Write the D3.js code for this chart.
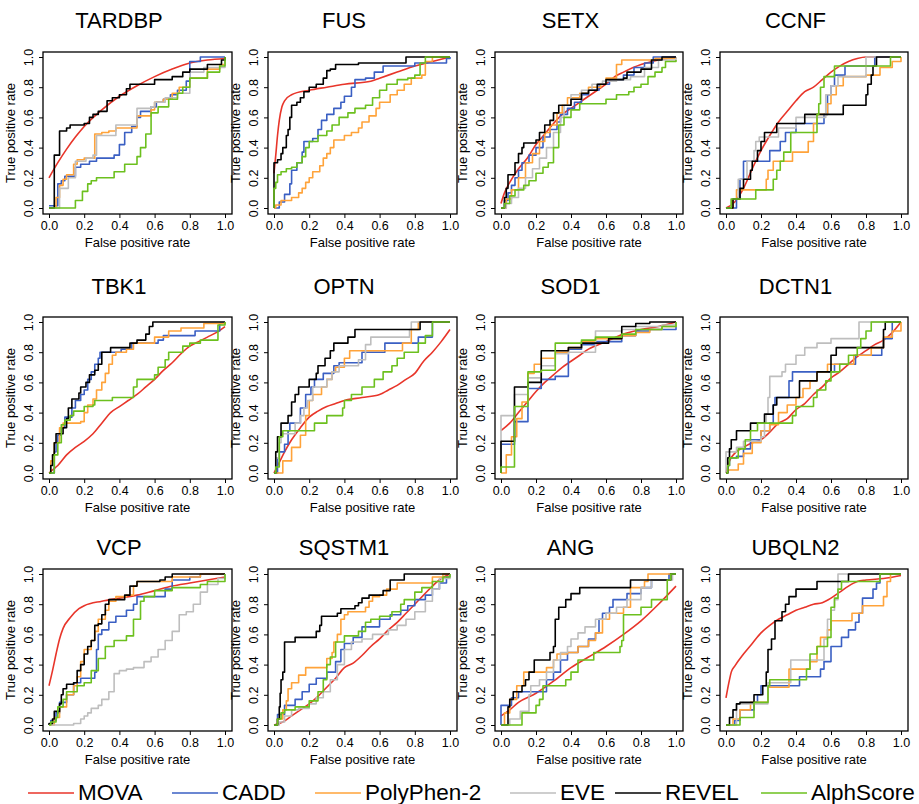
<!DOCTYPE html>
<html>
<head>
<meta charset="utf-8">
<script src="https://cdn.jsdelivr.net/npm/d3@7"></script>
<style>
body { margin: 0; background: #fff; }
text { font-family: "Liberation Sans", Arial, sans-serif; fill: #000; }
</style>
</head>
<body>
<div id="wrapper"></div>
<script>
var methods = ["MOVA", "CADD", "PolyPhen-2", "EVE", "REVEL", "AlphScore"];
var colors = ["#E8352A", "#3A5FC3", "#FFA33A", "#BEBEBE", "#000000", "#6CC01E"];
var genes = ["TARDBP", "FUS", "SETX", "CCNF", "TBK1", "OPTN", "SOD1", "DCTN1", "VCP", "SQSTM1", "ANG", "UBQLN2"];
var ticks = [0, 0.2, 0.4, 0.6, 0.8, 1.0];

// each gene: [MOVA, CADD, PolyPhen-2, EVE, REVEL, AlphScore] as [fpr, tpr]
var rocTARDBP = [
  [[0,0.2],[0.05,0.3],[0.1,0.39],[0.15,0.47],[0.2,0.54],[0.3,0.65],[0.4,0.74],[0.5,0.81],[0.6,0.87],[0.7,0.92],[0.8,0.96],[0.9,0.98],[1,0.99]],
  [[0,0.015],[0.05,0.16],[0.07,0.18],[0.09,0.21],[0.15,0.27],[0.18,0.29],[0.23,0.31],[0.27,0.33],[0.37,0.35],[0.4,0.42],[0.43,0.5],[0.47,0.54],[0.5,0.6],[0.52,0.64],[0.58,0.67],[0.61,0.7],[0.65,0.72],[0.69,0.75],[0.73,0.78],[0.78,0.84],[0.8,0.97],[0.86,1],[1,1]],
  [[0,0],[0.04,0.07],[0.06,0.15],[0.08,0.19],[0.1,0.22],[0.14,0.29],[0.16,0.32],[0.2,0.33],[0.26,0.49],[0.3,0.5],[0.34,0.51],[0.38,0.53],[0.5,0.61],[0.58,0.65],[0.6,0.7],[0.65,0.72],[0.7,0.76],[0.74,0.8],[0.8,0.86],[0.9,0.92],[0.97,0.95],[1,1]],
  [[0,0],[0.06,0.13],[0.11,0.2],[0.15,0.31],[0.21,0.33],[0.25,0.35],[0.27,0.48],[0.38,0.55],[0.5,0.66],[0.58,0.67],[0.6,0.7],[0.66,0.73],[0.73,0.76],[0.8,0.9],[0.88,0.93],[0.99,0.93],[1,1]],
  [[0,0],[0.03,0.35],[0.06,0.51],[0.1,0.53],[0.12,0.55],[0.2,0.56],[0.23,0.6],[0.25,0.62],[0.28,0.64],[0.33,0.71],[0.36,0.73],[0.4,0.75],[0.44,0.79],[0.46,0.82],[0.6,0.85],[0.7,0.87],[0.76,0.9],[0.8,0.92],[0.9,0.95],[0.98,0.98],[1,1]],
  [[0,0],[0.15,0.05],[0.19,0.11],[0.22,0.16],[0.24,0.18],[0.27,0.2],[0.37,0.24],[0.43,0.29],[0.5,0.34],[0.52,0.4],[0.55,0.49],[0.58,0.63],[0.62,0.67],[0.68,0.72],[0.73,0.76],[0.76,0.8],[0.8,0.86],[0.9,0.9],[0.97,0.94],[1,1]]
];
var rocFUS = [
  [[0,0.23],[0.01,0.35],[0.02,0.48],[0.03,0.58],[0.045,0.67],[0.06,0.71],[0.1,0.75],[0.2,0.78],[0.3,0.8],[0.4,0.82],[0.55,0.84],[0.6,0.86],[0.7,0.9],[0.8,0.94],[0.9,0.97],[1,1]],
  [[0,0],[0.03,0.04],[0.06,0.09],[0.09,0.16],[0.1,0.25],[0.13,0.3],[0.16,0.37],[0.17,0.44],[0.22,0.46],[0.25,0.52],[0.27,0.58],[0.3,0.62],[0.34,0.66],[0.38,0.7],[0.4,0.74],[0.44,0.8],[0.46,0.85],[0.52,0.86],[0.57,0.9],[0.62,0.94],[0.8,0.96],[0.98,0.99],[1,1]],
  [[0,0],[0.01,0.02],[0.04,0.05],[0.1,0.07],[0.14,0.1],[0.16,0.13],[0.18,0.17],[0.2,0.2],[0.22,0.24],[0.26,0.28],[0.28,0.33],[0.3,0.36],[0.32,0.4],[0.34,0.45],[0.4,0.48],[0.44,0.5],[0.48,0.53],[0.5,0.57],[0.54,0.61],[0.58,0.66],[0.6,0.7],[0.66,0.75],[0.7,0.78],[0.74,0.82],[0.78,0.86],[0.84,0.88],[0.86,0.97],[0.9,1],[1,1]],
  null,
  [[0,0],[0,0.3],[0.02,0.32],[0.04,0.36],[0.05,0.4],[0.07,0.48],[0.08,0.52],[0.09,0.6],[0.1,0.68],[0.13,0.7],[0.15,0.73],[0.17,0.77],[0.2,0.8],[0.24,0.82],[0.28,0.86],[0.3,0.91],[0.32,0.92],[0.35,0.95],[0.48,0.96],[0.75,1],[1,1]],
  [[0,0],[0,0.13],[0.01,0.17],[0.02,0.22],[0.04,0.24],[0.07,0.26],[0.1,0.27],[0.13,0.3],[0.16,0.34],[0.18,0.4],[0.2,0.44],[0.25,0.48],[0.3,0.51],[0.33,0.55],[0.37,0.6],[0.42,0.63],[0.46,0.66],[0.52,0.68],[0.56,0.73],[0.6,0.78],[0.64,0.82],[0.7,0.85],[0.76,0.86],[0.8,0.88],[0.83,0.96],[0.86,1],[1,1]]
];
var rocSETX = [
  [[0,0.03],[0.02,0.1],[0.05,0.17],[0.1,0.26],[0.15,0.33],[0.2,0.42],[0.25,0.49],[0.3,0.56],[0.35,0.62],[0.4,0.66],[0.45,0.7],[0.5,0.74],[0.55,0.78],[0.6,0.82],[0.65,0.87],[0.7,0.9],[0.8,0.95],[0.9,0.98],[1,1]],
  [[0,0],[0.02,0.05],[0.04,0.1],[0.06,0.15],[0.08,0.2],[0.1,0.25],[0.12,0.3],[0.16,0.35],[0.2,0.4],[0.24,0.47],[0.28,0.52],[0.32,0.57],[0.34,0.62],[0.38,0.66],[0.42,0.7],[0.46,0.75],[0.5,0.78],[0.56,0.82],[0.62,0.85],[0.7,0.88],[0.76,0.93],[0.82,0.96],[0.87,1],[1,1]],
  [[0,0],[0.03,0.06],[0.06,0.12],[0.1,0.2],[0.14,0.3],[0.18,0.36],[0.22,0.44],[0.25,0.5],[0.28,0.55],[0.32,0.63],[0.35,0.68],[0.38,0.73],[0.45,0.76],[0.5,0.8],[0.57,0.82],[0.6,0.86],[0.66,0.95],[0.69,0.98],[0.8,0.98],[0.88,0.99],[1,1]],
  [[0,0],[0.03,0.03],[0.06,0.07],[0.1,0.13],[0.14,0.2],[0.18,0.26],[0.22,0.33],[0.26,0.4],[0.3,0.5],[0.34,0.6],[0.36,0.68],[0.4,0.75],[0.46,0.78],[0.52,0.82],[0.58,0.84],[0.66,0.85],[0.74,0.87],[0.82,0.93],[0.9,0.98],[1,1]],
  [[0,0],[0.02,0.07],[0.03,0.13],[0.04,0.22],[0.08,0.3],[0.1,0.36],[0.12,0.4],[0.13,0.43],[0.2,0.45],[0.22,0.5],[0.25,0.55],[0.28,0.58],[0.3,0.63],[0.33,0.68],[0.4,0.72],[0.46,0.76],[0.5,0.78],[0.55,0.82],[0.6,0.85],[0.7,0.86],[0.72,0.9],[0.8,0.92],[0.86,0.98],[0.92,1],[1,1]],
  [[0,0],[0.02,0.03],[0.05,0.08],[0.08,0.12],[0.13,0.15],[0.16,0.18],[0.2,0.23],[0.24,0.27],[0.27,0.3],[0.3,0.4],[0.33,0.55],[0.36,0.6],[0.4,0.65],[0.45,0.69],[0.6,0.72],[0.66,0.75],[0.73,0.77],[0.76,0.8],[0.8,0.82],[0.84,0.87],[0.88,0.9],[0.92,0.93],[0.94,0.97],[1,0.98]]
];
var rocCCNF = [
  [[0,0],[0.05,0.04],[0.1,0.13],[0.15,0.26],[0.2,0.38],[0.25,0.48],[0.3,0.57],[0.35,0.64],[0.4,0.71],[0.45,0.77],[0.5,0.8],[0.55,0.85],[0.6,0.9],[0.65,0.94],[0.7,0.97],[0.75,0.99],[0.8,1],[1,1]],
  [[0,0],[0.06,0.06],[0.08,0.19],[0.1,0.31],[0.25,0.38],[0.31,0.44],[0.34,0.5],[0.4,0.56],[0.56,0.62],[0.58,0.75],[0.6,0.81],[0.62,0.88],[0.68,0.94],[0.85,1],[1,1]],
  [[0,0],[0.04,0.06],[0.06,0.12],[0.23,0.19],[0.24,0.25],[0.27,0.31],[0.38,0.37],[0.47,0.44],[0.5,0.56],[0.52,0.62],[0.58,0.69],[0.6,0.75],[0.63,0.81],[0.67,0.87],[0.8,0.88],[0.88,0.93],[0.95,0.97],[1,1]],
  [[0,0],[0.03,0.06],[0.07,0.19],[0.12,0.31],[0.16,0.38],[0.17,0.44],[0.19,0.47],[0.3,0.53],[0.4,0.6],[0.57,0.75],[0.6,0.81],[0.64,0.87],[0.8,1],[1,1]],
  [[0,0],[0.04,0.06],[0.08,0.13],[0.1,0.19],[0.14,0.25],[0.15,0.31],[0.18,0.38],[0.2,0.44],[0.22,0.5],[0.29,0.56],[0.45,0.62],[0.67,0.68],[0.8,0.75],[0.81,0.82],[0.83,0.88],[0.84,0.94],[0.86,1],[1,1]],
  [[0,0],[0.03,0.06],[0.17,0.12],[0.27,0.19],[0.29,0.25],[0.31,0.31],[0.33,0.37],[0.37,0.5],[0.52,0.62],[0.53,0.69],[0.54,0.8],[0.56,0.87],[0.62,0.94],[0.94,1],[1,1]]
];
var rocTBK1 = [
  [[0,0],[0.02,0.02],[0.05,0.05],[0.1,0.12],[0.15,0.17],[0.2,0.21],[0.25,0.26],[0.3,0.33],[0.35,0.4],[0.4,0.44],[0.45,0.48],[0.5,0.52],[0.55,0.57],[0.6,0.62],[0.65,0.68],[0.7,0.73],[0.75,0.79],[0.8,0.84],[0.85,0.87],[0.9,0.9],[0.95,0.93],[1,0.97]],
  [[0,0],[0.03,0.14],[0.04,0.2],[0.05,0.25],[0.07,0.3],[0.09,0.37],[0.13,0.43],[0.15,0.48],[0.18,0.52],[0.2,0.55],[0.22,0.62],[0.24,0.67],[0.26,0.72],[0.28,0.76],[0.29,0.8],[0.41,0.82],[0.47,0.86],[0.62,0.88],[0.65,0.91],[0.83,0.94],[0.97,0.99],[1,1]],
  [[0,0],[0.01,0.08],[0.03,0.2],[0.06,0.3],[0.08,0.33],[0.18,0.34],[0.2,0.4],[0.22,0.45],[0.25,0.49],[0.27,0.55],[0.3,0.6],[0.32,0.66],[0.34,0.72],[0.36,0.78],[0.38,0.8],[0.44,0.82],[0.48,0.86],[0.6,0.9],[0.68,0.94],[0.75,0.96],[0.88,0.99],[1,1]],
  null,
  [[0,0],[0.01,0.05],[0.02,0.12],[0.03,0.2],[0.04,0.26],[0.08,0.3],[0.1,0.36],[0.11,0.43],[0.13,0.49],[0.17,0.53],[0.18,0.57],[0.21,0.6],[0.23,0.65],[0.26,0.68],[0.28,0.72],[0.3,0.8],[0.35,0.83],[0.46,0.86],[0.5,0.88],[0.55,0.92],[0.57,0.97],[0.59,1],[1,1]],
  [[0,0],[0.03,0.12],[0.05,0.2],[0.07,0.32],[0.09,0.35],[0.12,0.38],[0.14,0.41],[0.2,0.44],[0.25,0.45],[0.26,0.48],[0.36,0.5],[0.48,0.57],[0.5,0.62],[0.6,0.65],[0.62,0.7],[0.66,0.75],[0.68,0.8],[0.76,0.84],[0.8,0.86],[0.86,0.88],[0.96,0.98],[1,1]]
];
var rocOPTN = [
  [[0,0],[0.03,0.07],[0.06,0.14],[0.1,0.22],[0.15,0.3],[0.2,0.37],[0.25,0.41],[0.3,0.44],[0.35,0.46],[0.4,0.48],[0.5,0.5],[0.6,0.52],[0.65,0.55],[0.7,0.58],[0.75,0.62],[0.8,0.66],[0.85,0.74],[0.9,0.8],[0.95,0.87],[1,0.95]],
  [[0,0],[0.02,0.1],[0.03,0.14],[0.06,0.19],[0.08,0.28],[0.09,0.33],[0.15,0.43],[0.18,0.52],[0.21,0.57],[0.23,0.62],[0.28,0.66],[0.34,0.71],[0.37,0.73],[0.5,0.8],[0.63,0.86],[0.82,0.9],[0.9,1],[1,1]],
  [[0,0],[0.05,0.08],[0.1,0.17],[0.15,0.25],[0.18,0.38],[0.2,0.48],[0.22,0.52],[0.27,0.57],[0.3,0.62],[0.33,0.67],[0.35,0.7],[0.4,0.76],[0.43,0.81],[0.73,0.86],[0.78,0.95],[0.82,1],[1,1]],
  [[0,0],[0.01,0.1],[0.03,0.2],[0.04,0.26],[0.12,0.33],[0.15,0.38],[0.17,0.43],[0.19,0.48],[0.22,0.57],[0.3,0.62],[0.33,0.67],[0.37,0.71],[0.48,0.75],[0.52,0.85],[0.55,0.9],[0.77,0.95],[0.78,1],[1,1]],
  [[0,0],[0.01,0.14],[0.02,0.24],[0.04,0.33],[0.08,0.38],[0.1,0.47],[0.12,0.52],[0.14,0.57],[0.2,0.62],[0.24,0.66],[0.25,0.71],[0.29,0.76],[0.32,0.81],[0.34,0.86],[0.42,0.9],[0.46,0.95],[0.83,1],[1,1]],
  [[0,0],[0.01,0.04],[0.03,0.24],[0.05,0.28],[0.23,0.33],[0.3,0.38],[0.39,0.43],[0.4,0.48],[0.44,0.52],[0.5,0.57],[0.57,0.62],[0.62,0.67],[0.67,0.71],[0.7,0.76],[0.74,0.8],[0.82,0.86],[0.86,0.91],[0.9,1],[1,1]]
];
var rocSOD1 = [
  [[0,0.28],[0.05,0.33],[0.1,0.4],[0.15,0.47],[0.2,0.54],[0.25,0.6],[0.3,0.65],[0.35,0.7],[0.4,0.74],[0.45,0.78],[0.5,0.82],[0.6,0.87],[0.7,0.92],[0.8,0.95],[0.9,0.97],[1,1]],
  [[0,0],[0,0.19],[0.077,0.34],[0.154,0.56],[0.23,0.62],[0.31,0.64],[0.385,0.82],[0.46,0.85],[0.54,0.87],[0.69,0.91],[0.77,0.94],[0.85,0.95],[1,0.97]],
  [[0,0],[0.03,0.12],[0.06,0.24],[0.09,0.36],[0.12,0.47],[0.154,0.66],[0.19,0.72],[0.23,0.76],[0.31,0.8],[0.385,0.83],[0.46,0.87],[0.54,0.89],[0.69,0.91],[0.77,0.93],[0.85,0.95],[0.92,0.97],[1,1]],
  [[0,0],[0,0.38],[0.077,0.52],[0.154,0.63],[0.23,0.71],[0.31,0.79],[0.385,0.8],[0.54,0.94],[0.69,0.95],[0.77,0.97],[0.92,0.98],[1,1]],
  [[0,0],[0,0.21],[0.077,0.57],[0.154,0.6],[0.23,0.81],[0.385,0.83],[0.46,0.86],[0.615,0.89],[0.69,0.97],[0.77,0.99],[0.85,1],[1,1]],
  [[0,0],[0,0.04],[0.077,0.44],[0.154,0.67],[0.23,0.68],[0.31,0.86],[0.46,0.88],[0.54,0.9],[0.69,0.92],[0.77,0.95],[0.92,0.97],[1,1]]
];
var rocDCTN1 = [
  [[0,0],[0.02,0.08],[0.05,0.13],[0.1,0.17],[0.15,0.2],[0.2,0.22],[0.25,0.27],[0.3,0.33],[0.35,0.36],[0.4,0.42],[0.45,0.46],[0.5,0.52],[0.55,0.57],[0.6,0.63],[0.65,0.67],[0.7,0.72],[0.75,0.77],[0.8,0.81],[0.85,0.85],[0.9,0.88],[0.95,0.93],[1,1]],
  [[0,0],[0.01,0.05],[0.02,0.1],[0.06,0.11],[0.1,0.16],[0.14,0.22],[0.2,0.28],[0.25,0.33],[0.27,0.45],[0.28,0.5],[0.36,0.61],[0.38,0.67],[0.62,0.72],[0.74,0.78],[0.89,0.83],[0.9,0.89],[0.95,1],[1,1]],
  [[0,0],[0.01,0.02],[0.07,0.06],[0.1,0.13],[0.15,0.2],[0.2,0.28],[0.25,0.32],[0.3,0.4],[0.35,0.45],[0.4,0.5],[0.44,0.56],[0.48,0.61],[0.52,0.67],[0.58,0.72],[0.73,0.78],[0.83,0.83],[0.9,0.9],[0.95,0.94],[1,1]],
  [[0,0],[0,0.14],[0.06,0.17],[0.1,0.21],[0.2,0.24],[0.22,0.33],[0.23,0.39],[0.24,0.5],[0.25,0.64],[0.32,0.67],[0.34,0.72],[0.4,0.78],[0.45,0.83],[0.52,0.86],[0.6,0.89],[0.76,1],[1,1]],
  [[0,0],[0.01,0.1],[0.02,0.16],[0.03,0.22],[0.06,0.28],[0.14,0.33],[0.22,0.39],[0.27,0.45],[0.29,0.5],[0.42,0.61],[0.52,0.67],[0.6,0.78],[0.63,0.83],[0.9,0.95],[0.91,1],[1,1]],
  [[0,0],[0.01,0.05],[0.02,0.1],[0.07,0.16],[0.11,0.22],[0.14,0.28],[0.18,0.33],[0.38,0.38],[0.4,0.44],[0.5,0.5],[0.52,0.55],[0.57,0.61],[0.6,0.67],[0.65,0.72],[0.7,0.78],[0.75,0.83],[0.77,0.89],[0.8,0.94],[0.83,1],[1,1]]
];
var rocVCP = [
  [[0,0.26],[0.02,0.36],[0.04,0.47],[0.06,0.57],[0.08,0.64],[0.12,0.71],[0.17,0.77],[0.2,0.79],[0.3,0.82],[0.4,0.84],[0.5,0.86],[0.6,0.89],[0.7,0.92],[0.8,0.94],[0.9,0.96],[1,0.98]],
  [[0,0],[0.01,0.03],[0.04,0.08],[0.06,0.15],[0.1,0.2],[0.14,0.28],[0.18,0.31],[0.26,0.35],[0.27,0.5],[0.28,0.6],[0.3,0.63],[0.34,0.68],[0.38,0.72],[0.44,0.76],[0.48,0.8],[0.5,0.85],[0.66,0.9],[0.7,0.96],[0.8,0.98],[0.86,1],[1,1]],
  [[0,0],[0.03,0.05],[0.06,0.12],[0.1,0.2],[0.14,0.26],[0.16,0.32],[0.18,0.42],[0.2,0.5],[0.24,0.56],[0.26,0.62],[0.28,0.7],[0.32,0.76],[0.34,0.82],[0.38,0.85],[0.44,0.86],[0.48,0.92],[0.5,0.95],[0.7,0.98],[0.86,1],[1,1]],
  [[0,0],[0.14,0.01],[0.18,0.04],[0.2,0.06],[0.22,0.08],[0.24,0.11],[0.28,0.13],[0.3,0.17],[0.34,0.22],[0.37,0.34],[0.4,0.36],[0.44,0.37],[0.48,0.38],[0.54,0.42],[0.58,0.45],[0.62,0.5],[0.66,0.56],[0.7,0.62],[0.74,0.73],[0.78,0.75],[0.82,0.8],[0.86,0.88],[0.9,0.93],[0.96,0.97],[1,1]],
  [[0,0],[0,0.01],[0.02,0.04],[0.03,0.09],[0.06,0.14],[0.07,0.2],[0.08,0.24],[0.1,0.27],[0.14,0.28],[0.16,0.36],[0.18,0.4],[0.2,0.47],[0.22,0.52],[0.24,0.56],[0.26,0.66],[0.28,0.67],[0.3,0.73],[0.32,0.8],[0.34,0.83],[0.43,0.86],[0.46,0.92],[0.5,0.95],[0.63,0.96],[0.66,0.98],[0.7,1],[1,1]],
  [[0,0],[0.01,0.02],[0.04,0.05],[0.05,0.12],[0.08,0.17],[0.1,0.22],[0.16,0.26],[0.2,0.28],[0.24,0.36],[0.28,0.44],[0.32,0.52],[0.37,0.56],[0.44,0.59],[0.48,0.7],[0.52,0.82],[0.54,0.85],[0.6,0.89],[0.7,0.91],[0.86,0.93],[0.9,0.95],[1,1]]
];
var rocSQSTM1 = [
  [[0,0],[0.05,0.02],[0.1,0.06],[0.15,0.1],[0.2,0.14],[0.25,0.19],[0.3,0.25],[0.35,0.31],[0.4,0.38],[0.45,0.41],[0.5,0.46],[0.55,0.52],[0.6,0.57],[0.65,0.63],[0.7,0.68],[0.75,0.74],[0.8,0.8],[0.85,0.86],[0.9,0.92],[0.95,0.97],[1,1]],
  [[0,0],[0.02,0.07],[0.06,0.13],[0.12,0.17],[0.16,0.22],[0.2,0.27],[0.24,0.31],[0.3,0.35],[0.35,0.42],[0.38,0.5],[0.4,0.54],[0.45,0.58],[0.5,0.65],[0.6,0.7],[0.66,0.73],[0.72,0.76],[0.76,0.79],[0.8,0.83],[0.86,0.86],[0.9,0.9],[0.94,0.94],[0.98,0.98],[1,1]],
  [[0,0],[0.02,0.04],[0.05,0.1],[0.07,0.16],[0.08,0.24],[0.1,0.28],[0.14,0.33],[0.18,0.38],[0.3,0.44],[0.33,0.48],[0.34,0.55],[0.36,0.6],[0.38,0.7],[0.4,0.73],[0.42,0.75],[0.52,0.78],[0.54,0.82],[0.56,0.85],[0.6,0.86],[0.64,0.9],[0.7,0.94],[0.9,0.98],[0.96,1],[1,1]],
  [[0,0],[0.03,0.02],[0.06,0.06],[0.1,0.1],[0.14,0.11],[0.2,0.14],[0.24,0.18],[0.28,0.22],[0.32,0.3],[0.36,0.4],[0.4,0.5],[0.44,0.55],[0.5,0.57],[0.56,0.6],[0.65,0.63],[0.7,0.66],[0.75,0.7],[0.8,0.75],[0.86,0.82],[0.9,0.9],[0.94,0.97],[1,1]],
  [[0,0],[0.02,0.04],[0.03,0.12],[0.035,0.21],[0.04,0.3],[0.05,0.35],[0.06,0.55],[0.12,0.58],[0.24,0.62],[0.26,0.66],[0.27,0.72],[0.36,0.74],[0.38,0.77],[0.46,0.79],[0.48,0.81],[0.5,0.84],[0.54,0.86],[0.62,0.89],[0.66,0.96],[0.74,1],[1,1]],
  [[0,0],[0.02,0.04],[0.04,0.08],[0.06,0.1],[0.12,0.12],[0.2,0.16],[0.25,0.22],[0.28,0.3],[0.3,0.4],[0.32,0.45],[0.35,0.55],[0.4,0.59],[0.48,0.62],[0.52,0.68],[0.55,0.7],[0.6,0.72],[0.67,0.75],[0.72,0.8],[0.74,0.83],[0.8,0.88],[0.84,0.91],[0.9,0.95],[0.96,0.98],[1,1]]
];
var rocANG = [
  [[0,0.06],[0.05,0.1],[0.1,0.15],[0.2,0.21],[0.3,0.29],[0.4,0.38],[0.5,0.45],[0.6,0.52],[0.7,0.6],[0.8,0.69],[0.9,0.8],[1,0.92]],
  [[0,0],[0,0.13],[0.06,0.18],[0.1,0.22],[0.26,0.3],[0.3,0.35],[0.34,0.43],[0.38,0.48],[0.44,0.52],[0.5,0.57],[0.54,0.61],[0.56,0.7],[0.58,0.74],[0.62,0.78],[0.64,0.83],[0.72,0.87],[0.8,0.91],[0.86,0.96],[0.96,1],[1,1]],
  [[0,0],[0.02,0.08],[0.05,0.17],[0.09,0.26],[0.13,0.35],[0.26,0.38],[0.3,0.43],[0.32,0.47],[0.38,0.48],[0.44,0.52],[0.5,0.56],[0.54,0.61],[0.58,0.7],[0.62,0.74],[0.7,0.78],[0.74,0.91],[0.82,0.95],[0.84,1],[1,1]],
  [[0,0],[0.05,0.04],[0.11,0.09],[0.16,0.2],[0.17,0.26],[0.22,0.3],[0.26,0.35],[0.3,0.43],[0.34,0.48],[0.38,0.52],[0.4,0.57],[0.44,0.61],[0.48,0.65],[0.54,0.7],[0.6,0.74],[0.66,0.78],[0.72,0.83],[0.8,0.91],[0.86,0.96],[0.98,1],[1,1]],
  [[0,0],[0.04,0.12],[0.05,0.17],[0.07,0.22],[0.12,0.26],[0.14,0.3],[0.16,0.35],[0.19,0.43],[0.28,0.48],[0.3,0.52],[0.31,0.7],[0.33,0.78],[0.37,0.83],[0.4,0.87],[0.45,0.91],[0.74,0.96],[0.97,1],[1,1]],
  [[0,0],[0.12,0.08],[0.2,0.13],[0.22,0.17],[0.24,0.26],[0.37,0.3],[0.4,0.35],[0.44,0.43],[0.53,0.48],[0.68,0.52],[0.69,0.56],[0.7,0.73],[0.8,0.78],[0.86,0.83],[0.95,0.96],[0.97,1],[1,1]]
];
var rocUBQLN2 = [
  [[0,0.18],[0.02,0.3],[0.03,0.35],[0.05,0.39],[0.1,0.47],[0.15,0.54],[0.2,0.61],[0.25,0.66],[0.3,0.7],[0.35,0.73],[0.4,0.76],[0.45,0.78],[0.5,0.8],[0.55,0.81],[0.6,0.84],[0.65,0.88],[0.7,0.92],[0.75,0.95],[0.8,0.96],[0.9,0.97],[1,0.99]],
  [[0,0],[0.05,0.03],[0.08,0.1],[0.16,0.15],[0.18,0.2],[0.2,0.26],[0.42,0.32],[0.54,0.37],[0.56,0.42],[0.6,0.52],[0.66,0.58],[0.7,0.63],[0.74,0.68],[0.76,0.74],[0.78,0.84],[0.84,0.9],[0.86,0.94],[0.88,1],[1,1]],
  [[0,0],[0.04,0.04],[0.08,0.1],[0.14,0.15],[0.24,0.25],[0.36,0.37],[0.48,0.42],[0.52,0.52],[0.54,0.58],[0.58,0.63],[0.6,0.69],[0.72,0.74],[0.78,0.79],[0.9,0.85],[0.92,0.95],[0.94,1],[1,1]],
  [[0,0],[0.06,0.14],[0.24,0.28],[0.37,0.43],[0.56,0.57],[0.58,0.7],[0.6,0.76],[0.62,0.83],[0.64,1],[1,1]],
  [[0,0],[0.02,0.05],[0.04,0.1],[0.06,0.14],[0.08,0.15],[0.16,0.2],[0.21,0.26],[0.23,0.35],[0.24,0.5],[0.26,0.57],[0.28,0.69],[0.32,0.75],[0.34,0.8],[0.36,0.85],[0.4,0.9],[0.52,0.95],[0.7,1],[1,1]],
  [[0,0],[0.08,0.05],[0.16,0.15],[0.24,0.26],[0.25,0.3],[0.46,0.37],[0.48,0.47],[0.52,0.52],[0.58,0.58],[0.6,0.78],[0.62,0.84],[0.64,0.9],[0.66,0.95],[0.86,0.95],[0.88,1],[1,1]]
];

var rocByGene = {
  TARDBP: rocTARDBP, FUS: rocFUS, SETX: rocSETX, CCNF: rocCCNF,
  TBK1: rocTBK1, OPTN: rocOPTN, SOD1: rocSOD1, DCTN1: rocDCTN1,
  VCP: rocVCP, SQSTM1: rocSQSTM1, ANG: rocANG, UBQLN2: rocUBQLN2
};

// panel geometry (pixels of the plot region where 0..1 maps)
var colX = [[49, 225], [274, 450], [501, 676], [726, 901]];
var rowY = [[208, 57], [473, 322], [725, 574]];
var titleY = [28, 294, 555];

var svg = d3.select('#wrapper')
  .append('svg')
  .attr('width', 919)
  .attr('height', 804);

genes.forEach(function(gene, gi) {
  var c = gi % 4, r = Math.floor(gi / 4);
  var x = d3.scaleLinear().domain([0, 1]).range(colX[c]);
  var y = d3.scaleLinear().domain([0, 1]).range(rowY[r]);
  var bx0 = colX[c][0] - 6, bx1 = colX[c][1] + 7;
  var by0 = rowY[r][1] - 5, by1 = rowY[r][0] + 6;
  var g = svg.append('g');

  var stepLine = d3.line().x(function(d) { return x(d[0]); }).y(function(d) { return y(d[1]); }).curve(d3.curveStepAfter);
  var smoothLine = d3.line().x(function(d) { return x(d[0]); }).y(function(d) { return y(d[1]); }).curve(d3.curveMonotoneX);

  rocByGene[gene].forEach(function(pts, mi) {
    if (!pts) return;
    g.append('path')
      .datum(pts)
      .attr('d', mi === 0 ? smoothLine : stepLine)
      .style('fill', 'none')
      .style('stroke', colors[mi])
      .style('stroke-width', 1.6)
      .style('stroke-linejoin', 'round');
  });

  g.append('rect')
    .attr('x', bx0).attr('y', by0)
    .attr('width', bx1 - bx0).attr('height', by1 - by0)
    .style('fill', 'none').style('stroke', '#000').style('stroke-width', 1.3);

  var xAxis = g.append('g')
    .attr('transform', 'translate(0,' + by1 + ')')
    .call(d3.axisBottom(x).tickValues(ticks).tickFormat(d3.format('.1f')).tickSize(4).tickPadding(3).tickSizeOuter(0));
  var yAxis = g.append('g')
    .attr('transform', 'translate(' + bx0 + ',0)')
    .call(d3.axisLeft(y).tickValues(ticks).tickFormat(d3.format('.1f')).tickSize(4).tickSizeOuter(0));
  [xAxis, yAxis].forEach(function(a) {
    a.select('.domain').remove();
    a.selectAll('line').style('stroke', '#000').style('stroke-width', 1);
    a.selectAll('text').style('font-size', '12.5px').style('fill', '#000')
      .style('font-family', '"Liberation Sans", Arial, sans-serif');
  });
  yAxis.selectAll('text')
    .attr('x', null).attr('dy', null)
    .attr('y', -10)
    .attr('transform', 'rotate(-90)')
    .style('text-anchor', 'middle');

  g.append('text')
    .attr('x', (bx0 + bx1) / 2).attr('y', by1 + 33)
    .attr('text-anchor', 'middle')
    .style('font-size', '13px')
    .text('False positive rate');
  g.append('text')
    .attr('transform', 'translate(' + (bx0 - 28) + ',' + ((by0 + by1) / 2) + ') rotate(-90)')
    .attr('text-anchor', 'middle')
    .style('font-size', '13px')
    .text('True positive rate');

  g.append('text')
    .attr('x', (bx0 - 37 + bx1) / 2).attr('y', titleY[r])
    .attr('text-anchor', 'middle')
    .style('font-size', '22px')
    .text(gene);
});

// legend
var legendTextX = [78, 222, 365, 560, 665, 811];
var legend = svg.append('g');
methods.forEach(function(m, i) {
  legend.append('line')
    .attr('x1', legendTextX[i] - 50).attr('x2', legendTextX[i] - 4)
    .attr('y1', 793).attr('y2', 793)
    .style('stroke', colors[i]).style('stroke-width', 1.6);
  legend.append('text')
    .attr('x', legendTextX[i]).attr('y', 800)
    .style('font-size', '22.5px')
    .text(m);
});
</script>
</body>
</html>
